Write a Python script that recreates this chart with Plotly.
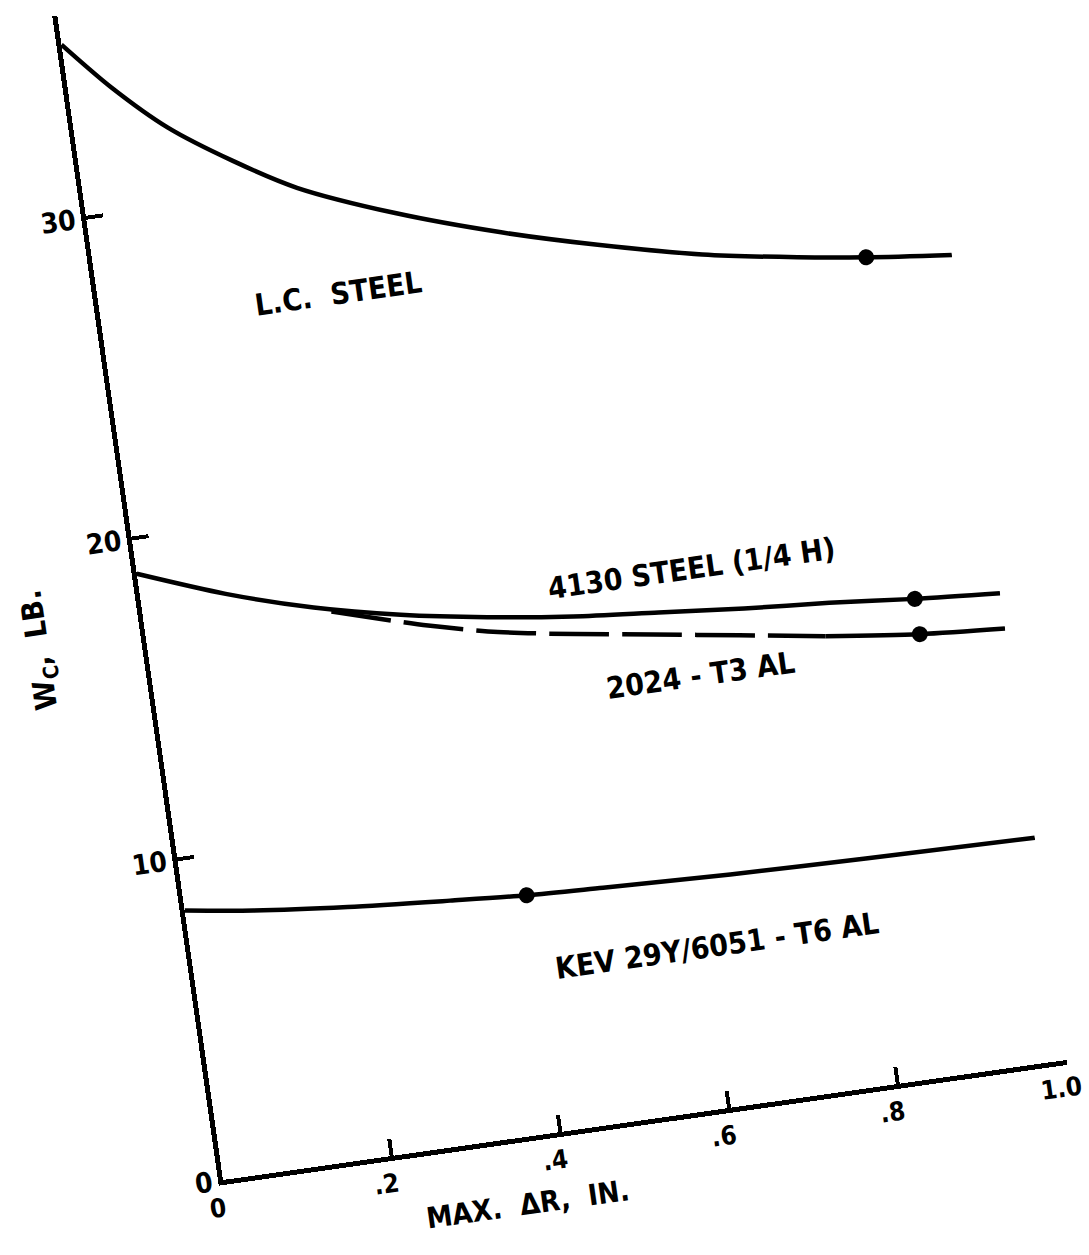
import plotly.graph_objects as go

# ---- data ----
lc_x = [0.0, 0.05, 0.11, 0.18, 0.25, 0.36, 0.48, 0.59, 0.71, 0.82, 0.90, 1.0]
lc_y = [35.4, 33.9, 32.4, 31.1, 30.0, 28.8, 27.75, 26.95, 26.2, 25.7, 25.4, 25.1]

s4130_x = [0.0, 0.1, 0.2, 0.3, 0.4, 0.5, 0.6, 0.7, 0.8, 0.9, 1.0]
s4130_y = [18.9, 17.9, 17.1, 16.5, 16.05, 15.7, 15.45, 15.2, 15.0, 14.75, 14.55]

al2024_x = [0.22, 0.33, 0.41, 0.5, 0.59, 0.69, 0.79, 0.90, 1.0]
al2024_y = [16.9, 16.05, 15.55, 15.15, 14.8, 14.4, 14.0, 13.65, 13.45]
al2024_solid_from = 6  # index where the dashed line becomes solid

kev_x = [0.0, 0.08, 0.19, 0.31, 0.40, 0.49, 0.64, 0.80, 1.0]
kev_y = [8.4, 8.1, 7.8, 7.55, 7.38, 7.28, 7.13, 7.03, 6.93]

dot_x = [0.90, 0.90, 0.90, 0.40]
dot_y = [25.4, 14.75, 13.65, 7.38]

x_ticks = [0, 0.2, 0.4, 0.6, 0.8, 1.0]
x_ticklabels = ["0", ".2", ".4", ".6", ".8", "1.0"]
y_ticks = [0, 10, 20, 30]
y_ticklabels = ["0", "10", "20", "30"]

labels = ["L.C.\u00a0 STEEL", "4130 STEEL (1/4 H)", "2024 - T3 AL", "KEV 29Y/6051 - T6 AL"]

# ---- style ----
FONT = "DejaVu Sans Condensed"
ORIGIN_Y = 1180          # page y of the axes origin
H = 1320                 # figure taller than page so nothing is clipped after rotation
ML, MR, MT = 223, 60, 4
MB = H - ORIGIN_Y
PLOT_W = 852
W = ML + PLOT_W + MR
ROT = -8.1
LW = 4.5

fig = go.Figure()
line = dict(color="black", width=LW, shape="spline", smoothing=0.8)
fig.add_trace(go.Scatter(x=lc_x, y=lc_y, mode="lines", line=line, showlegend=False))
fig.add_trace(go.Scatter(x=s4130_x, y=s4130_y, mode="lines", line=line, showlegend=False))
fig.add_trace(go.Scatter(x=al2024_x[:al2024_solid_from + 1], y=al2024_y[:al2024_solid_from + 1],
                         mode="lines", line=dict(line, dash="60px,13px"), showlegend=False))
fig.add_trace(go.Scatter(x=al2024_x[al2024_solid_from:], y=al2024_y[al2024_solid_from:],
                         mode="lines", line=line, showlegend=False))
fig.add_trace(go.Scatter(x=kev_x, y=kev_y, mode="lines", line=line, showlegend=False))
fig.add_trace(go.Scatter(x=dot_x, y=dot_y, mode="markers",
                         marker=dict(color="black", size=16), showlegend=False))

lab_pos = [(0.28, 26.6), (0.646, 16.66), (0.638, 13.35), (0.613, 5.03)]
for (lx, ly), txt in zip(lab_pos, labels):
    fig.add_annotation(x=lx, y=ly, xref="x", yref="y", text=txt, showarrow=False,
                       font=dict(family=FONT, size=30, color="black", weight="bold"))

fig.add_annotation(x=0, xref="paper", xshift=-128, y=17, yref="y", text="W<sub>C</sub>,\u00a0 LB.",
                   textangle=-90, showarrow=False,
                   font=dict(family=FONT, size=30, color="black", weight="bold"))
fig.add_annotation(x=0.35, xref="x", y=0, yref="paper", yshift=-86,
                   text="MAX.\u00a0 ΔR,\u00a0 IN.",
                   showarrow=False, font=dict(family=FONT, size=29, color="black", weight="bold"))

axis_common = dict(showline=True, linecolor="black", linewidth=5, showgrid=False, zeroline=False,
                   ticks="inside", ticklen=17, tickwidth=4, tickcolor="black")
fig.update_xaxes(range=[0, 1.0], tickvals=x_ticks, ticktext=x_ticklabels, ticklabelshift=-9,
                 tickfont=dict(family=FONT, size=26, color="black", weight="bold"), **axis_common)
fig.update_yaxes(range=[0, 36.3], tickvals=y_ticks, ticktext=y_ticklabels,
                 tickfont=dict(family=FONT, size=28, color="black", weight="bold"), **axis_common)

fig.update_layout(width=W, height=H, margin=dict(l=ML, r=MR, t=MT, b=MB),
                  paper_bgcolor="white", plot_bgcolor="white")

post = ("var gd=document.getElementById('{plot_id}');"
        "document.body.style.margin='0';"
        "document.body.style.background='white';"
        "document.body.style.overflow='hidden';"
        "document.documentElement.style.overflow='hidden';"
        "gd.style.transformOrigin='%dpx %dpx';"
        "gd.style.transform='rotate(%.1fdeg)';") % (ML, ORIGIN_Y, ROT)

fig.write_html("out.html", post_script=post)
